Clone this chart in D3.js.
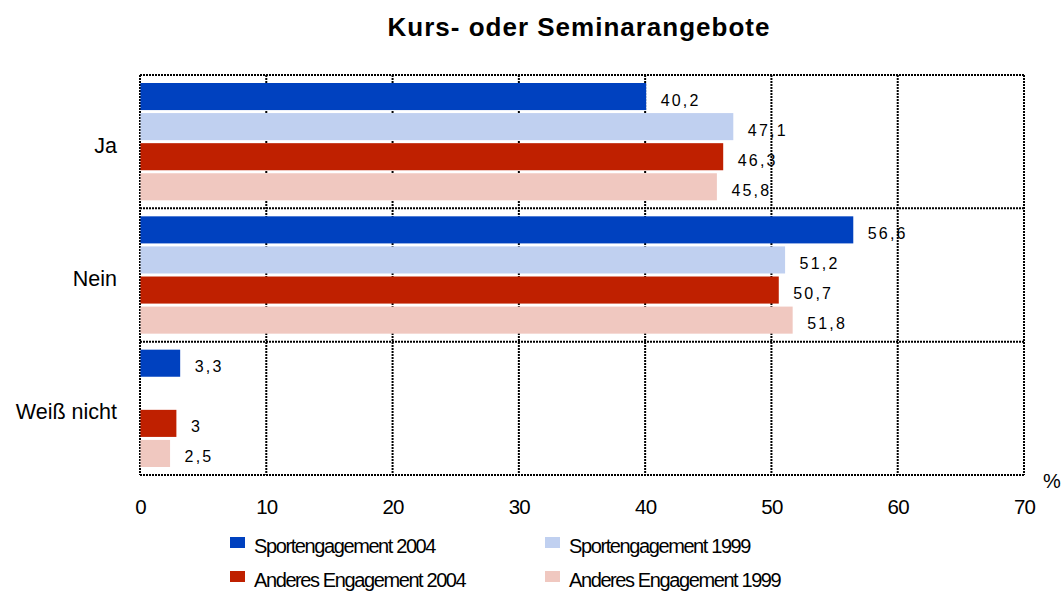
<!DOCTYPE html>
<html>
<head>
<meta charset="utf-8">
<script src="https://cdn.jsdelivr.net/npm/d3@7"></script>
<style>
  body { margin: 0; background: #fff; }
  svg text { font-family: "Liberation Sans", Arial, sans-serif; fill: #000; }
</style>
</head>
<body>
<div class="chart"></div>
<script>
var categories = ["Ja", "Nein", "Weiß nicht"];
var seriesNames = ["Sportengagement 2004", "Sportengagement 1999", "Anderes Engagement 2004", "Anderes Engagement 1999"];
var sport2004 = [40.2, 56.6, 3.3];
var sport1999 = [47.1, 51.2, null];
var anderes2004 = [46.3, 50.7, 3];
var anderes1999 = [45.8, 51.8, 2.5];
var xTicks = [0, 10, 20, 30, 40, 50, 60, 70];
var colors = ["#0041bf", "#c0d0f0", "#bf2000", "#f0c8c0"];

var allSeries = [sport2004, sport1999, anderes2004, anderes1999];

var width = 1064, height = 591;
var plotLeft = 140, plotRight = 1024, plotTop = 75, plotBottom = 475;

var svg = d3.select('.chart').append('svg').attr('width', width).attr('height', height);

var x = d3.scaleLinear().domain([0, 70]).range([plotLeft, plotRight]);
var y = d3.scaleBand().domain(categories).range([plotTop, plotBottom]);
var yInner = d3.scaleBand().domain(d3.range(seriesNames.length))
  .range([8, y.bandwidth() - 8]).paddingInner(0.1);

// title
svg.append('text').attr('x', 579).attr('y', 36).attr('text-anchor', 'middle')
  .style('font-size', '26px').style('font-weight', 'bold').style('letter-spacing', '1px')
  .text('Kurs- oder Seminarangebote');

// grid
var grid = svg.append('g').attr('stroke', '#000').attr('stroke-width', 2).attr('stroke-dasharray', '2,1');
grid.selectAll('.v').data(xTicks).enter().append('line')
  .attr('x1', d => x(d)).attr('x2', d => x(d)).attr('y1', plotTop).attr('y2', plotBottom);
var hLines = categories.map(c => y(c)).concat([plotBottom]);
grid.selectAll('.h').data(hLines).enter().append('line')
  .attr('x1', plotLeft).attr('x2', plotRight).attr('y1', d => d).attr('y2', d => d);

// bars
var rows = [];
categories.forEach(function (c, ci) {
  allSeries.forEach(function (s, si) {
    if (s[ci] != null) rows.push({cat: c, si: si, value: s[ci]});
  });
});

svg.selectAll('rect.bar').data(rows).enter().append('rect')
  .attr('class', 'bar')
  .attr('x', x(0) + 0.5)
  .attr('y', d => y(d.cat) + yInner(d.si))
  .attr('width', d => x(d.value) - x(0) - 2)
  .attr('height', yInner.bandwidth())
  .attr('fill', d => colors[d.si]);

svg.selectAll('text.val').data(rows).enter().append('text')
  .attr('class', 'val')
  .attr('x', d => x(d.value) + 13)
  .attr('y', d => y(d.cat) + yInner(d.si) + yInner.bandwidth() / 2 + 9)
  .style('font-size', '16px').style('letter-spacing', '2.2px')
  .text(d => String(d.value).replace('.', ','));

// category labels
svg.selectAll('text.cat').data(categories).enter().append('text')
  .attr('class', 'cat')
  .attr('x', 117).attr('y', d => y(d) + y.bandwidth() / 2 + 11)
  .attr('text-anchor', 'end').style('font-size', '21.5px')
  .text(d => d);

// x axis
var xAxis = svg.append('g').attr('transform', `translate(0,${plotBottom})`)
  .call(d3.axisBottom(x).tickValues(xTicks).tickSize(0).tickPadding(24));
xAxis.select('.domain').remove();
xAxis.selectAll('text').style('font-size', '20.5px').style('letter-spacing', '-0.8px')
  .style('font-family', '"Liberation Sans", Arial, sans-serif');

svg.append('text').attr('x', 1052).attr('y', 488).attr('text-anchor', 'middle')
  .style('font-size', '20px').text('%');

// legend
var legendPos = [[230, 537], [545, 537], [230, 571], [545, 571]];
var legend = svg.selectAll('g.leg').data(seriesNames).enter().append('g')
  .attr('class', 'leg')
  .attr('transform', (d, i) => `translate(${legendPos[i][0]},${legendPos[i][1]})`);
legend.append('rect').attr('x', 0).attr('y', 0).attr('width', 15).attr('height', 11)
  .attr('fill', (d, i) => colors[i]);
legend.append('text').attr('x', 24).attr('y', 16)
  .style('font-size', '20px').style('letter-spacing', '-1.4px')
  .text(d => d);
</script>
</body>
</html>
